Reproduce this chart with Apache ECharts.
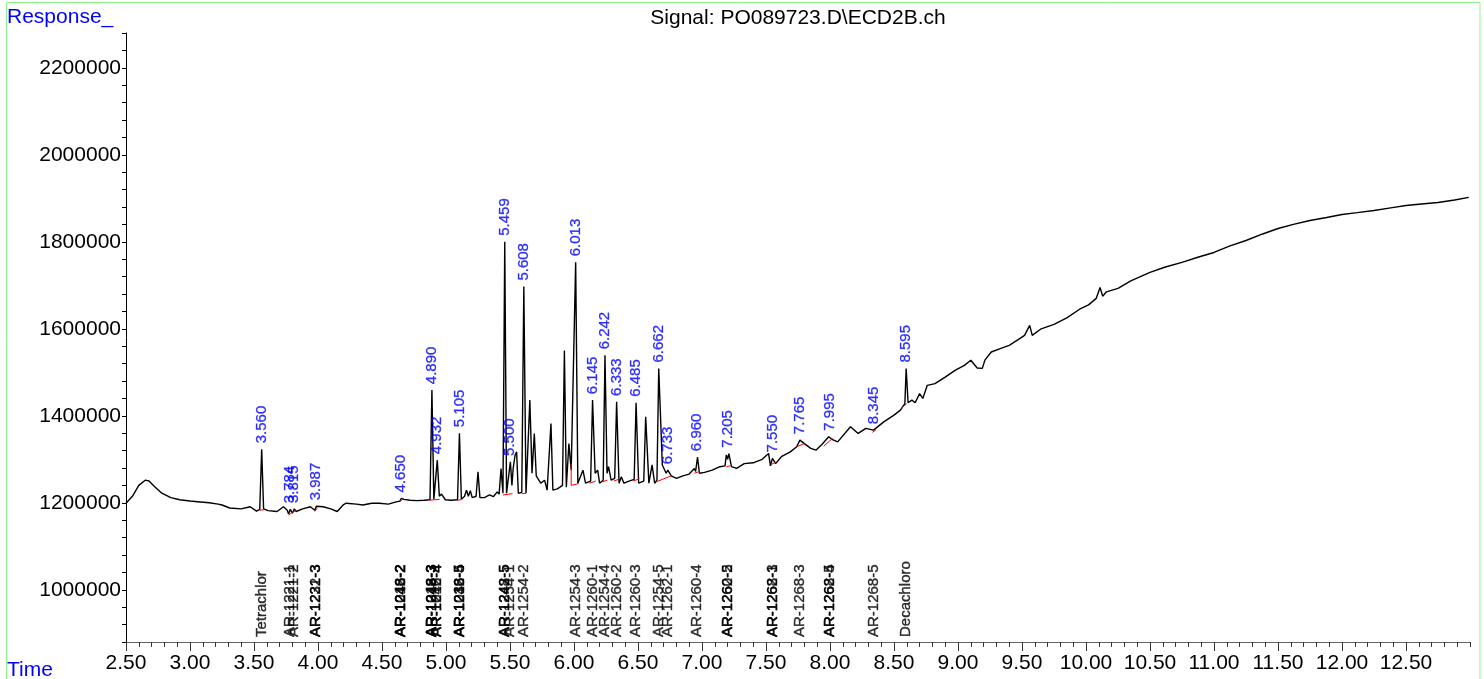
<!DOCTYPE html>
<html>
<head>
<meta charset="utf-8">
<script src="https://cdn.jsdelivr.net/npm/echarts@6/dist/echarts.min.js"></script>
<style>
html,body{margin:0;padding:0;background:#fff;}
#chart{width:1484px;height:679px;}
</style>
</head>
<body>
<div id="chart"></div>
<script>
// ---- data ----
const signalTime = [
2.50,2.55,2.60,2.65,2.68,2.72,2.78,2.85,2.92,3.00,3.08,3.15,3.22,3.25,3.31,3.40,3.47,3.52,3.545,3.56,3.575,3.61,3.68,3.73,3.76,3.77,3.784,3.80,3.815,3.83,3.88,3.94,3.975,3.987,4.00,4.04,4.10,4.15,4.20,4.22,4.30,4.35,4.42,4.48,4.55,4.61,4.64,4.65,4.67,4.72,4.77,4.83,4.875,4.89,4.905,4.92,4.932,4.948,4.965,4.98,4.995,5.04,5.09,5.105,5.12,5.145,5.16,5.175,5.19,5.205,5.235,5.25,5.265,5.30,5.34,5.37,5.40,5.415,5.43,5.445,5.459,5.473,5.488,5.503,5.515,5.525,5.54,5.552,5.565,5.592,5.608,5.625,5.655,5.672,5.69,5.705,5.74,5.77,5.79,5.82,5.835,5.87,5.89,5.91,5.925,5.94,5.96,5.978,6.013,6.03,6.07,6.09,6.13,6.145,6.165,6.185,6.20,6.228,6.242,6.258,6.27,6.29,6.318,6.333,6.352,6.37,6.39,6.43,6.47,6.485,6.505,6.545,6.56,6.585,6.61,6.63,6.648,6.662,6.69,6.72,6.733,6.76,6.80,6.85,6.90,6.94,6.95,6.965,6.98,7.02,7.08,7.14,7.18,7.19,7.20,7.21,7.23,7.27,7.33,7.40,7.47,7.52,7.535,7.55,7.575,7.62,7.69,7.74,7.765,7.80,7.85,7.89,7.94,7.99,8.02,8.06,8.16,8.22,8.28,8.34,8.42,8.50,8.55,8.585,8.595,8.61,8.64,8.665,8.70,8.725,8.76,8.82,8.90,8.98,9.05,9.10,9.15,9.19,9.21,9.26,9.33,9.40,9.47,9.52,9.56,9.58,9.65,9.75,9.85,9.95,10.02,10.08,10.11,10.13,10.16,10.25,10.35,10.50,10.62,10.75,10.88,11.00,11.12,11.25,11.38,11.50,11.62,11.75,11.88,12.00,12.12,12.25,12.38,12.50,12.62,12.75,12.88,12.99
];
const signalResponse = [
1199000,1215000,1240000,1252000,1250000,1238000,1222000,1212000,1207000,1204000,1202000,1200000,1197000,1195000,1188000,1186000,1191000,1181000,1185000,1323000,1186000,1182000,1180000,1191000,1183000,1174000,1185000,1176000,1186000,1180000,1186000,1191000,1183000,1192000,1188000,1191000,1186000,1180000,1196000,1199000,1197000,1195000,1199000,1199000,1197000,1202000,1204000,1210000,1208000,1206000,1205000,1206000,1207000,1459000,1208000,1212000,1298000,1215000,1220000,1222000,1207000,1206000,1207000,1360000,1208000,1215000,1229000,1215000,1228000,1212000,1215000,1271000,1212000,1212000,1218000,1214000,1225000,1220000,1279000,1222000,1800000,1222000,1225000,1294000,1240000,1280000,1310000,1317000,1222000,1224000,1697000,1222000,1436000,1268000,1359500,1262000,1245000,1252000,1229000,1382000,1229000,1232000,1236000,1240000,1550000,1236000,1336000,1275000,1753000,1245000,1275000,1245000,1250000,1436000,1268000,1275000,1245000,1252000,1539000,1268000,1283000,1252000,1256000,1432000,1245000,1260000,1245000,1250000,1254000,1430000,1245000,1250000,1397600,1245000,1287000,1245000,1252000,1508600,1287000,1268000,1275000,1262000,1256000,1262000,1266000,1279000,1272000,1305000,1268000,1270000,1275000,1283000,1285000,1310000,1300000,1313000,1283000,1279000,1290000,1292000,1300000,1313500,1285000,1302000,1290000,1306000,1317000,1329000,1344000,1336000,1325000,1321000,1335000,1352000,1345000,1340000,1375000,1359500,1371000,1367000,1386000,1401500,1413000,1428000,1508600,1430000,1436000,1430000,1451000,1440000,1470000,1474000,1489000,1505000,1516000,1527700,1510000,1509000,1528000,1546700,1554500,1562000,1575000,1585000,1608000,1585000,1600000,1610000,1625000,1645000,1655000,1670000,1695000,1675000,1685000,1693000,1710000,1729600,1742000,1752600,1765000,1775500,1790000,1803000,1818000,1830600,1840000,1849000,1856000,1862700,1867000,1872000,1878000,1883300,1887000,1890200,1896000,1902000
];
// integration baselines: [t1, v1, t2, v2]
const baselineSegments = [
[3.545,1183000,3.58,1184000],[3.77,1172000,3.80,1178000],[3.80,1178000,3.83,1182000],
[3.975,1180000,3.995,1188000],[4.64,1203000,4.67,1210000],[4.875,1206000,4.95,1208000],
[5.09,1206000,5.12,1207000],[5.445,1218000,5.52,1221000],[5.592,1221000,5.625,1222000],
[5.978,1240000,6.035,1244000],[5.978,1240000,5.978,1290000],[6.12,1245000,6.17,1250000],
[6.22,1248000,6.26,1252000],[6.31,1250000,6.35,1254000],[6.46,1250000,6.51,1255000],
[6.64,1248000,6.76,1262000],[6.94,1268000,6.98,1272000],[7.19,1283000,7.22,1285000],
[7.54,1288000,7.58,1294000],[7.74,1329000,7.80,1336000],[7.95,1330000,8.02,1348000],
[8.33,1362000,8.36,1368000],[8.56,1418000,8.60,1428000]
];
const peakLabels = ["3.560","3.784","3.815","3.987","4.650","4.890","4.932","5.105","5.459","5.500","5.608","6.013","6.145","6.242","6.333","6.485","6.662","6.733","6.960","7.205","7.550","7.765","7.995","8.345","8.595"];
const peakHeights = [1323000,1185000,1186000,1192000,1210000,1459000,1298000,1360000,1800000,1294000,1697000,1753000,1436000,1539000,1432000,1430000,1508600,1275000,1305000,1313000,1302000,1344000,1352000,1367000,1508600];
const compoundNames = ["Tetrachlor","AR-1221-1","AR-1221-2","AR-1221-3","AR-1232-3","AR-1016-2","AR-1242-2","AR-1248-2","AR-1016-3","AR-1242-3","AR-1248-3","AR-1016-4","AR-1242-4","AR-1016-5","AR-1232-5","AR-1248-4","AR-1242-5","AR-1248-5","AR-1254-1","AR-1254-2","AR-1254-3","AR-1260-1","AR-1254-4","AR-1260-2","AR-1260-3","AR-1254-5","AR-1262-1","AR-1260-4","AR-1260-5","AR-1262-2","AR-1262-3","AR-1268-1","AR-1268-3","AR-1262-5","AR-1268-4","AR-1268-5","Decachloro"];
const compoundTimes = [3.560,3.784,3.815,3.987,3.987,4.650,4.650,4.650,4.890,4.890,4.890,4.932,4.932,5.105,5.105,5.105,5.459,5.459,5.500,5.608,6.013,6.145,6.242,6.333,6.485,6.662,6.733,6.960,7.205,7.205,7.550,7.550,7.765,7.995,7.995,8.345,8.595];

const X_MIN = 2.5, X_MAX = 13.0, Y_MIN = 880000, Y_MAX = 2280000;

// ---- build chart ----
const signalData = signalTime.map((t, i) => [t, signalResponse[i]]);
const baseData = [];
baselineSegments.forEach(s => { baseData.push([s[0], s[1]], [s[2], s[3]], [s[2], '-']); });
const peakData = peakLabels.map((l, i) => [parseFloat(l), peakHeights[i], l]);
const compData = compoundNames.map((n, i) => [compoundTimes[i], Y_MIN, n]);

const FONT = 'Liberation Sans, Arial, sans-serif';
const chart = echarts.init(document.getElementById('chart'), null, {renderer: 'canvas'});
chart.setOption({
  animation: false,
  backgroundColor: '#ffffff',
  grid: {left: 126, right: 14, top: 33, bottom: 37},
  title: {
    text: 'Signal: PO089723.D\\ECD2B.ch', left: 798, top: 8, textAlign: 'center', padding: 0,
    textStyle: {fontFamily: FONT, fontSize: 21, fontWeight: 'normal', color: '#000'}
  },
  graphic: [
    {type: 'rect', shape: {x: 6.5, y: 2.5, width: 1473.5, height: 700}, style: {fill: 'none', stroke: '#8cf58c', lineWidth: 1}, silent: true, z: -1},
    {type: 'text', left: 7, top: 7, style: {text: 'Response_', fill: '#0000ff', font: '21px ' + FONT}},
    {type: 'text', left: 7, top: 660, style: {text: 'Time', fill: '#0000ff', font: '21px ' + FONT}}
  ],
  xAxis: [
    {type: 'value', min: X_MIN, max: X_MAX, interval: 0.1, position: 'bottom',
      axisLine: {show: true, onZero: false, lineStyle: {color: '#666', width: 1}},
      axisTick: {show: true, length: 5, lineStyle: {color: '#333'}},
      axisLabel: {show: false}, splitLine: {show: false}},
    {type: 'value', min: X_MIN, max: X_MAX, interval: 0.5, position: 'bottom',
      axisLine: {show: false, onZero: false},
      axisTick: {show: true, length: 9, lineStyle: {color: '#333'}},
      axisLabel: {show: true, margin: 11, showMaxLabel: false, fontFamily: FONT, fontSize: 21, color: '#000',
        formatter: v => v.toFixed(2)},
      splitLine: {show: false}}
  ],
  yAxis: [{
    type: 'value', min: Y_MIN, max: Y_MAX, interval: 40000,
    axisLine: {show: true, onZero: false, lineStyle: {color: '#000', width: 1}},
    axisTick: {show: true, length: 4, lineStyle: {color: '#000'}},
    axisLabel: {show: true, margin: 5, fontFamily: FONT, fontSize: 21, color: '#000',
      formatter: v => (Math.abs(v / 200000 - Math.round(v / 200000)) < 1e-6 ? String(Math.round(v)) : '')},
    splitLine: {show: false}
  }],
  series: [
    {type: 'line', name: 'signal', data: signalData, xAxisIndex: 0, showSymbol: false, symbol: 'none',
      lineStyle: {color: '#000', width: 1.4}, z: 3},
    {type: 'line', name: 'baseline', data: baseData, xAxisIndex: 0, showSymbol: false, symbol: 'none',
      connectNulls: false, lineStyle: {color: '#ff0000', width: 1}, z: 4},
    {type: 'scatter', name: 'peaks', data: peakData, xAxisIndex: 0, symbolSize: 0, clip: false,
      label: {show: true, position: 'top', distance: 6, rotate: 90, align: 'left', verticalAlign: 'middle',
        formatter: p => p.data[2], color: '#0000ff', textBorderColor: '#0000ff', textBorderWidth: 0.3,
        fontFamily: FONT, fontSize: 15}, z: 5},
    {type: 'scatter', name: 'compounds', data: compData, xAxisIndex: 0, symbolSize: 0, clip: false,
      label: {show: true, position: 'top', distance: 5, rotate: 90, align: 'left', verticalAlign: 'middle',
        formatter: p => p.data[2], color: '#000', textBorderColor: '#000', textBorderWidth: 0.4,
        fontFamily: FONT, fontSize: 15}, z: 5}
  ]
});
</script>
</body>
</html>
